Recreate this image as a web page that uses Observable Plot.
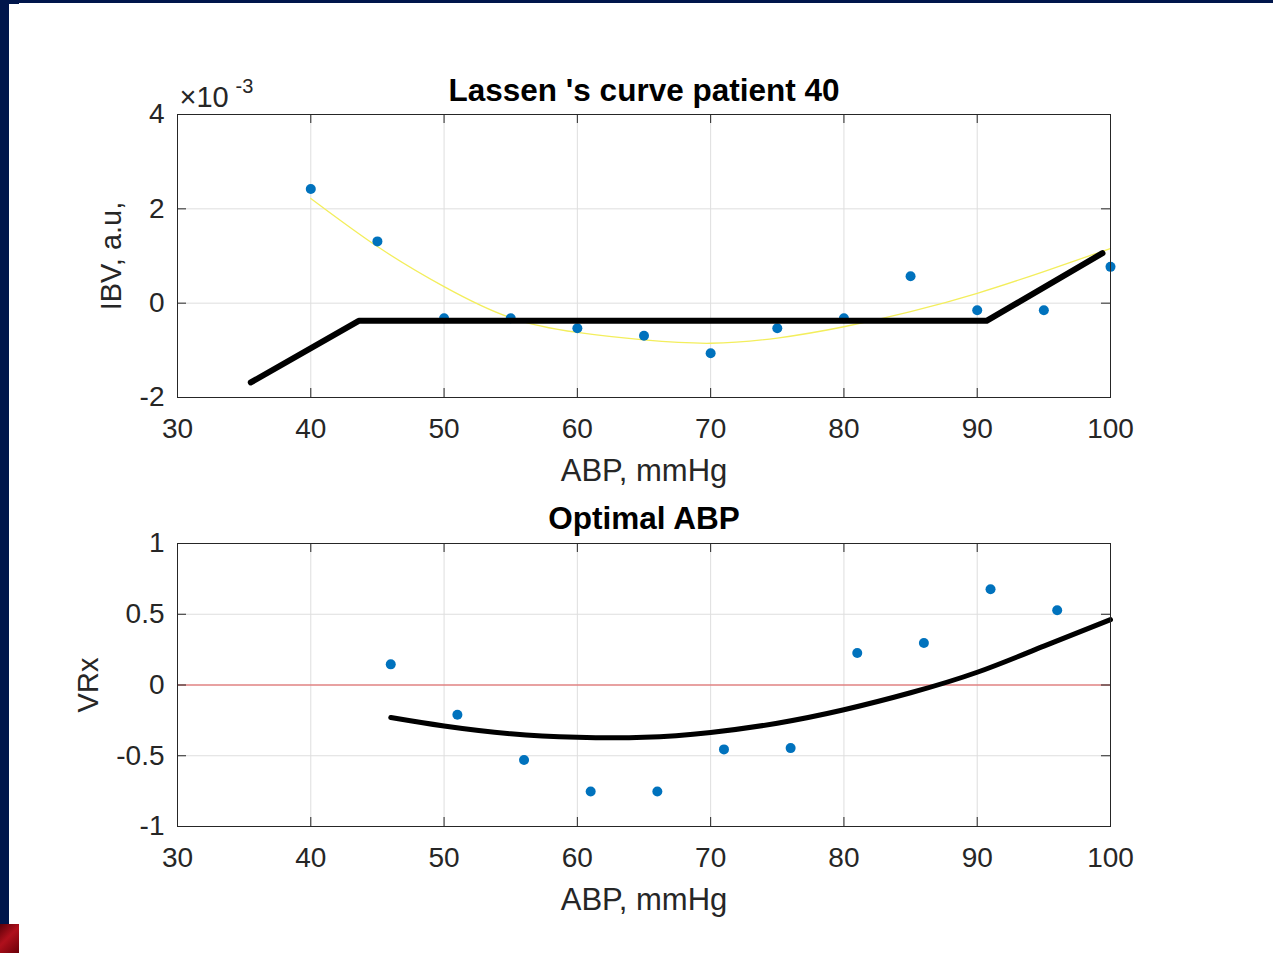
<!DOCTYPE html>
<html>
<head>
<meta charset="utf-8">
<script src="https://cdn.jsdelivr.net/npm/d3@7"></script>
<script src="https://cdn.jsdelivr.net/npm/@observablehq/plot@0.6"></script>
<style>
  html, body { margin:0; padding:0; background:#ffffff; width:1273px; height:953px; overflow:hidden; font-family:"Liberation Sans", Arial, sans-serif; }
  #navyTop { position:absolute; left:0; top:0; width:1273px; height:3px; background:#00164b; }
  #navyLeft { position:absolute; left:0; top:0; width:9px; height:924px; background:#00164b; }
  #navyNotch { position:absolute; left:9px; top:0; width:10px; height:4px; background:#00164b; }
  #redCorner { position:absolute; left:0; top:924px; width:19px; height:29px; background:linear-gradient(135deg,#5a0008 0%,#b0101c 45%,#6a0008 100%); }
  #p1 { position:absolute; left:0; top:0; }
  #p2 { position:absolute; left:0; top:500px; }
</style>
</head>
<body>
<div id="navyTop"></div>
<div id="navyLeft"></div>
<div id="navyNotch"></div>
<div id="redCorner"></div>
<div id="p1"></div>
<div id="p2"></div>
<script>
// ---------- Data ----------
// Top panel: Lassen's curve, patient 40 (IBV in a.u.)
const ibvABP = [40, 45, 50, 55, 60, 65, 70, 75, 80, 85, 90, 95, 100];
const ibvValues = [2.42e-3, 1.31e-3, -0.32e-3, -0.32e-3, -0.53e-3, -0.69e-3, -1.06e-3, -0.53e-3, -0.32e-3, 0.57e-3, -0.15e-3, -0.15e-3, 0.77e-3];

const fitABP = [40, 45, 50, 55, 60, 65, 70, 75, 80, 85, 90, 95, 100];
const fitValues = [2.22e-3, 1.20e-3, 0.35e-3, -0.31e-3, -0.62e-3, -0.78e-3, -0.85e-3, -0.74e-3, -0.50e-3, -0.18e-3, 0.21e-3, 0.67e-3, 1.16e-3];

const lassenABP = [35.5, 43.6, 90.7, 99.4];
const lassenValues = [-1.68e-3, -0.375e-3, -0.375e-3, 1.06e-3];

// Bottom panel: Optimal ABP (VRx)
const vrxABP = [46, 51, 56, 61, 66, 71, 76, 81, 86, 91, 96];
const vrxValues = [0.146, -0.21, -0.53, -0.753, -0.753, -0.455, -0.446, 0.226, 0.297, 0.677, 0.528];

const vrxFitABP = [46, 50, 55, 60, 65, 70, 75, 80, 85, 90, 95, 100];
const vrxFitValues = [-0.23, -0.29, -0.345, -0.37, -0.37, -0.335, -0.27, -0.175, -0.055, 0.09, 0.275, 0.462];

const refLineABP = [30, 100];
const refLineValues = [0, 0];

// Axis ticks and texts
const xTicks = [30, 40, 50, 60, 70, 80, 90, 100];
const y1Ticks = [-0.002, 0, 0.002, 0.004];
const y2Ticks = [-1, -0.5, 0, 0.5, 1];
const title1 = "Lassen 's curve patient 40";
const title2 = "Optimal ABP";
const xLabel = "ABP, mmHg";
const y1Label = "IBV, a.u,";
const y2Label = "VRx";
const expBase = "\u00d710";
const expPower = "-3";

// ---------- Styles ----------
const FONT = "'Liberation Sans', Arial, Helvetica, sans-serif";
const AX = "#262626";
const GRID = "#dedede";
const BLUE = "#0072BD";
const TICKFS = 28;

const W = 1273;
const ML = 177, MR = 163;
const frameW = W - ML - MR;   // 933
const frameH = 283;
const tickLen = 9;

function toRows(xs, ys) { return xs.map((x, i) => ({x, y: ys[i]})); }

function frameMarks(yTicks) {
  return [
    Plot.gridX(xTicks, {stroke: GRID, strokeOpacity: 1, strokeWidth: 1}),
    Plot.gridY(yTicks, {stroke: GRID, strokeOpacity: 1, strokeWidth: 1})
  ];
}
function tickMarks(yTicks) {
  return [
    Plot.tickX(xTicks, {x: d => d, insetTop: frameH - tickLen, stroke: AX, strokeWidth: 1}),
    Plot.tickX(xTicks, {x: d => d, insetBottom: frameH - tickLen, stroke: AX, strokeWidth: 1}),
    Plot.tickY(yTicks, {y: d => d, insetRight: frameW - tickLen, stroke: AX, strokeWidth: 1}),
    Plot.tickY(yTicks, {y: d => d, insetLeft: frameW - tickLen, stroke: AX, strokeWidth: 1}),
    Plot.frame({stroke: AX, strokeWidth: 1})
  ];
}

const p1 = Plot.plot({
  width: W, height: 500,
  marginLeft: ML, marginRight: MR, marginTop: 114, marginBottom: 103,
  style: {fontFamily: FONT, fontSize: TICKFS + "px", color: AX, background: "transparent", overflow: "visible"},
  x: {domain: [30, 100]},
  y: {domain: [-0.002, 0.004]},
  marks: [
    ...frameMarks(y1Ticks),
    Plot.line(toRows(fitABP, fitValues), {x: "x", y: "y", stroke: "#f3ee5c", strokeWidth: 1.3, curve: "natural"}),
    Plot.dot(toRows(ibvABP, ibvValues), {x: "x", y: "y", r: 5, fill: BLUE, stroke: "none"}),
    Plot.line(toRows(lassenABP, lassenValues), {x: "x", y: "y", stroke: "#000000", strokeWidth: 6, strokeLinejoin: "round", strokeLinecap: "round"}),
    ...tickMarks(y1Ticks),
    Plot.axisX(xTicks, {tickSize: 0, tickPadding: 21, fontSize: TICKFS, fill: AX, tickFormat: d => String(d), label: null}),
    Plot.axisY(y1Ticks, {tickSize: 0, tickPadding: 13, fontSize: TICKFS, fill: AX, tickFormat: d => String(Math.round(d * 1000)), label: null}),
    Plot.text([title1], {text: d => d, frameAnchor: "top", textAnchor: "middle", lineAnchor: "middle", dy: -24, fontSize: 31.5, fontWeight: "bold", fill: "#000"}),
    Plot.text([xLabel], {text: d => d, frameAnchor: "bottom", textAnchor: "middle", lineAnchor: "middle", dy: 74, fontSize: 31, fill: AX}),
    Plot.text([y1Label], {text: d => d, frameAnchor: "left", textAnchor: "middle", lineAnchor: "middle", rotate: -90, dx: -66, fontSize: 29, fill: AX}),
    Plot.text([expBase], {text: d => d, frameAnchor: "top-left", textAnchor: "start", lineAnchor: "middle", dx: 2, dy: -17, fontSize: 29, fill: AX}),
    Plot.text([expPower], {text: d => d, frameAnchor: "top-left", textAnchor: "start", lineAnchor: "middle", dx: 58, dy: -28, fontSize: 20, fill: AX})
  ]
});
document.getElementById("p1").appendChild(p1);

const p2 = Plot.plot({
  width: W, height: 453,
  marginLeft: ML, marginRight: MR, marginTop: 43, marginBottom: 127,
  style: {fontFamily: FONT, fontSize: TICKFS + "px", color: AX, background: "transparent", overflow: "visible"},
  x: {domain: [30, 100]},
  y: {domain: [-1, 1]},
  marks: [
    ...frameMarks(y2Ticks),
    Plot.line(toRows(refLineABP, refLineValues), {x: "x", y: "y", stroke: "#e25555", strokeWidth: 1.2}),
    Plot.dot(toRows(vrxABP, vrxValues), {x: "x", y: "y", r: 5, fill: BLUE, stroke: "none"}),
    Plot.line(toRows(vrxFitABP, vrxFitValues), {x: "x", y: "y", stroke: "#000000", strokeWidth: 5, curve: "natural"}),
    ...tickMarks(y2Ticks),
    Plot.axisX(xTicks, {tickSize: 0, tickPadding: 21, fontSize: TICKFS, fill: AX, tickFormat: d => String(d), label: null}),
    Plot.axisY(y2Ticks, {tickSize: 0, tickPadding: 13, fontSize: TICKFS, fill: AX, tickFormat: d => String(d), label: null}),
    Plot.text([title2], {text: d => d, frameAnchor: "top", textAnchor: "middle", lineAnchor: "middle", dy: -25, fontSize: 31.5, fontWeight: "bold", fill: "#000"}),
    Plot.text([xLabel], {text: d => d, frameAnchor: "bottom", textAnchor: "middle", lineAnchor: "middle", dy: 74, fontSize: 31, fill: AX}),
    Plot.text([y2Label], {text: d => d, frameAnchor: "left", textAnchor: "middle", lineAnchor: "middle", rotate: -90, dx: -89, fontSize: 29, fill: AX})
  ]
});
document.getElementById("p2").appendChild(p2);
</script>
</body>
</html>
